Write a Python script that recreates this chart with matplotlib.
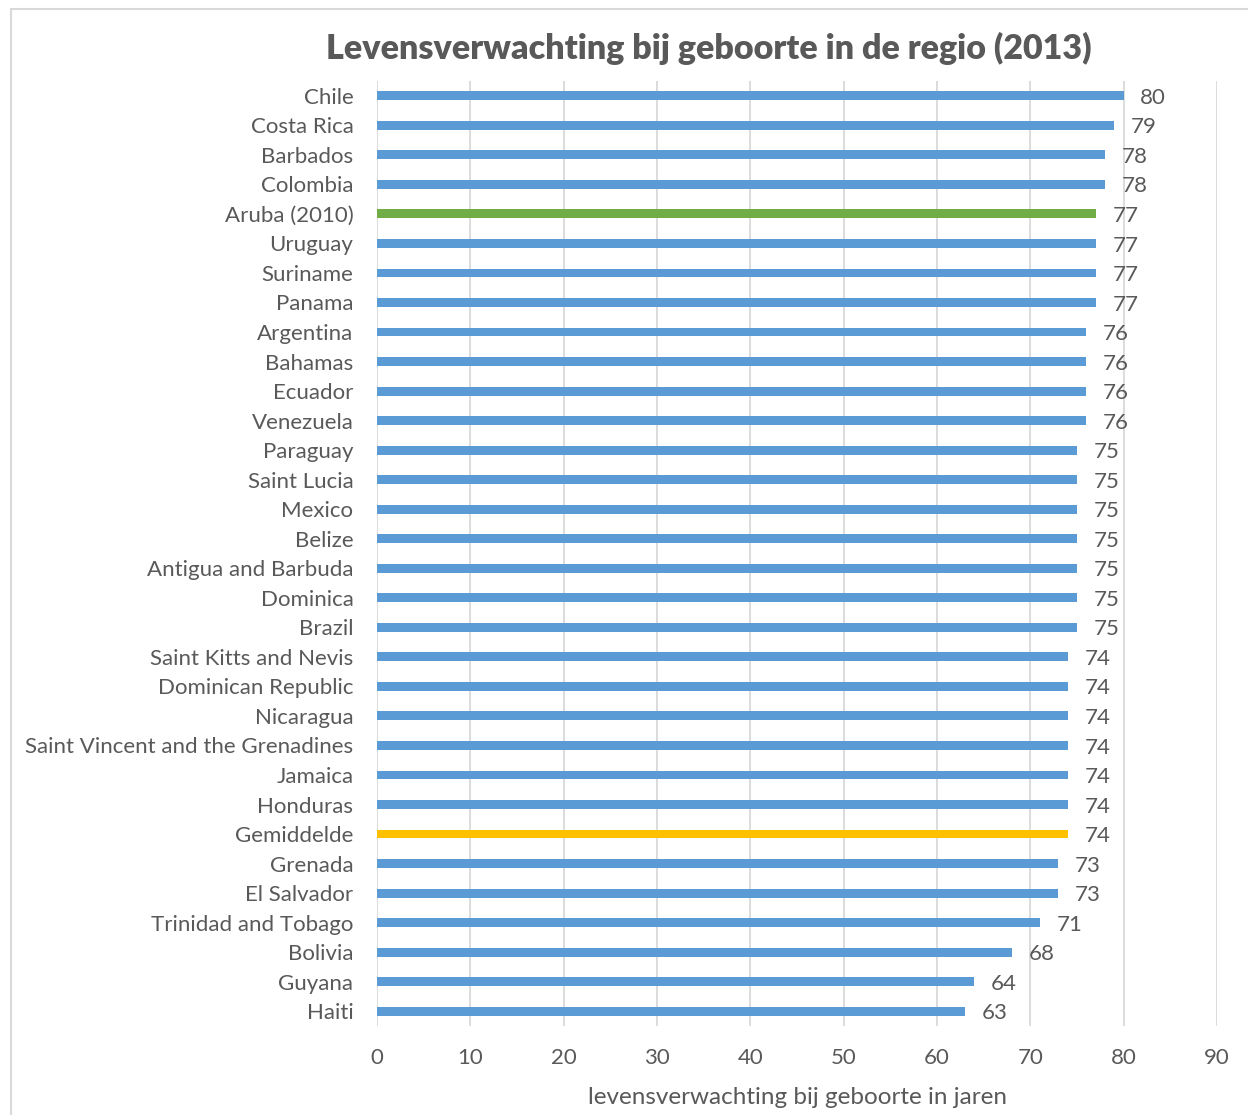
import matplotlib
matplotlib.use("Agg")
import matplotlib.pyplot as plt
from matplotlib.patches import Rectangle

countries = ["Chile", "Costa Rica", "Barbados", "Colombia", "Aruba (2010)", "Uruguay",
             "Suriname", "Panama", "Argentina", "Bahamas", "Ecuador", "Venezuela",
             "Paraguay", "Saint Lucia", "Mexico", "Belize", "Antigua and Barbuda",
             "Dominica", "Brazil", "Saint Kitts and Nevis", "Dominican Republic",
             "Nicaragua", "Saint Vincent and the Grenadines", "Jamaica", "Honduras",
             "Gemiddelde", "Grenada", "El Salvador", "Trinidad and Tobago", "Bolivia",
             "Guyana", "Haiti"]
values = [80, 79, 78, 78, 77, 77, 77, 77, 76, 76, 76, 76, 75, 75, 75, 75, 75, 75, 75,
          74, 74, 74, 74, 74, 74, 74, 73, 73, 71, 68, 64, 63]
xticks = [0, 10, 20, 30, 40, 50, 60, 70, 80, 90]
title = "Levensverwachting bij geboorte in de regio (2013)"
xlabel = "levensverwachting bij geboorte in jaren"

BLUE = "#5b9bd5"
GREEN = "#70ad47"
YELLOW = "#ffc000"
TXT = "#595959"
GRID = "#d9d9d9"

plt.rcParams["font.family"] = ["Lato", "DejaVu Sans"]

W, H = 1248, 1115
fig = plt.figure(figsize=(W / 100, H / 100), dpi=100)
ax = fig.add_axes([377 / W, 1 - 1026 / H, (1217 - 377) / W, (1026 - 81) / H])

colors = []
for c in countries:
    if c.startswith("Aruba"):
        colors.append(GREEN)
    elif c == "Gemiddelde":
        colors.append(YELLOW)
    else:
        colors.append(BLUE)

ypos = list(range(len(countries)))
ax.barh(ypos, values, height=0.3, color=colors, zorder=3)
ax.set_ylim(len(countries) - 0.5, -0.5)
ax.set_xlim(0, 90)
ax.set_xticks(xticks)
ax.set_yticks(ypos)
ax.set_yticklabels(countries)
for t in ax.get_yticklabels():
    t.set_va("center_baseline")
ax.tick_params(axis="y", length=0, pad=17, labelsize=16, labelcolor=TXT)
ax.tick_params(axis="x", length=0, pad=15.5, labelsize=16, labelcolor=TXT)
ax.grid(axis="x", color=GRID, linewidth=1.3, zorder=0)
for s in ax.spines.values():
    s.set_visible(False)

for y, v in zip(ypos, values):
    ax.annotate(f"{v}", xy=(v, y), xytext=(12, -1.5), textcoords="offset points",
                va="center", ha="left", fontsize=16, color=TXT)

ax.set_xlabel(xlabel, fontsize=17.5, color=TXT, labelpad=14)
fig.text(709 / W, 1 - 48 / H, title, ha="center", va="center", fontsize=24.5,
         fontweight="heavy", color=TXT)

fig.patches.append(Rectangle((11 / W, -0.1), 1.2, 1 - 9 / H + 0.1,
                             transform=fig.transFigure, fill=False,
                             edgecolor=GRID, linewidth=1.5))

fig.savefig("out.png", dpi=100)
